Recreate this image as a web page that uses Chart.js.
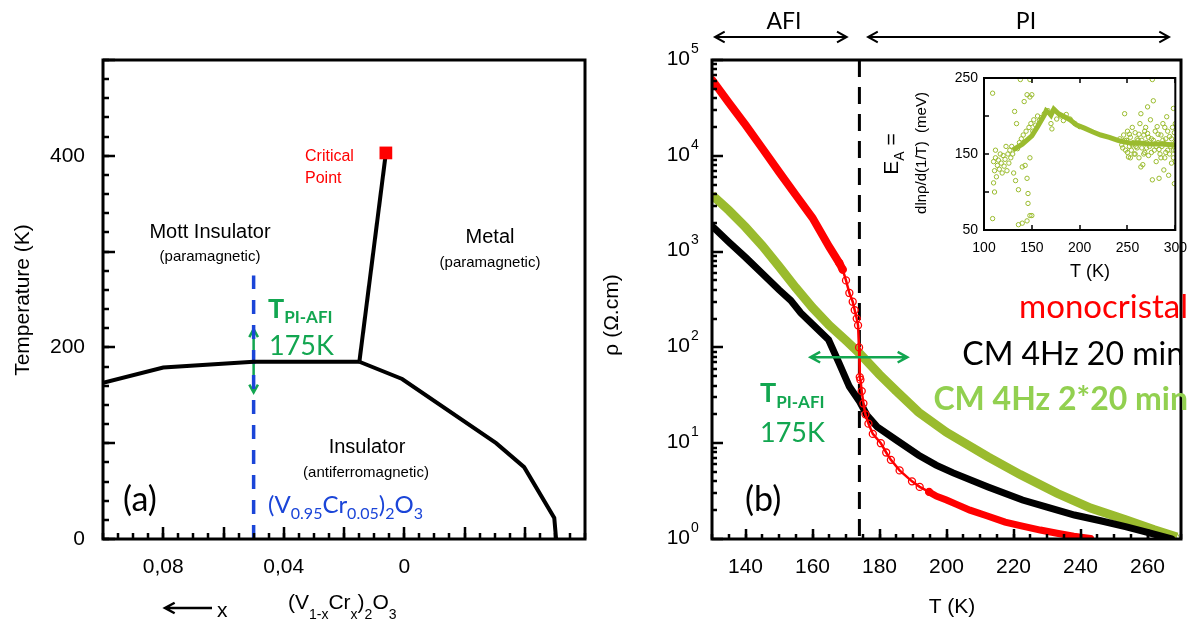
<!DOCTYPE html>
<html>
<head>
<meta charset="utf-8">
<script src="https://cdn.jsdelivr.net/npm/chart.js@4"></script>
<style>
  body { margin: 0; background: #fff; }
  .layer { position: absolute; left: 0; top: 0; width: 1197px; height: 625px; }
</style>
</head>
<body>
<div class="layer"><canvas id="phase" width="1197" height="625"></canvas></div>
<div class="layer"><canvas id="rho" width="1197" height="625"></canvas></div>
<div class="layer"><canvas id="inset" width="1197" height="625"></canvas></div>
<script>
'use strict';

// (a) phase diagram, x = Cr content, T in K
const afiBoundaryX = [0.1, 0.08, 0.05, 0.0149];
const afiBoundaryT = [163, 179, 185, 185];
const mitLineX = [0.0149, 0.0063];
const mitLineT = [185, 398];
const metalBoundaryX = [0.0149, 0.0007, -0.0305, -0.0398, -0.0498, -0.0504];
const metalBoundaryT = [185, 167, 100, 75, 22, 0];
const criticalX = [0.0061];
const criticalT = [403];
const sampleX = [0.05, 0.05];
const sampleT = [0, 275];
const transitionArrowT = [219, 153];
const phaseTickValues = [0.08, 0.04, 0];
const phaseTickText = ['0,08', '0,04', '0'];
const tempTickValues = [0, 200, 400];

// (b) resistivity vs T
const monoT = [130, 135, 140, 145, 150, 155, 160, 165, 168, 169, 170, 171, 172, 172.6, 173.2, 173.6, 173.9, 174.1, 174.3, 174.7,
  175.2, 175.8, 176.7, 178, 180.4, 182, 183.4, 186, 189.7, 192, 194.8, 197, 200, 203, 207, 212, 217.5, 222, 228, 233, 238, 243];
const monoRho = [62000, 36000, 21000, 12000, 6800, 3900, 2250, 1120, 760, 650, 500, 370, 300, 245, 200, 170, 100, 49, 46, 35,
  26, 20, 16, 12.5, 10, 8, 6.7, 5.2, 4.0, 3.5, 3.1, 2.8, 2.55, 2.3, 2.0, 1.75, 1.5, 1.38, 1.24, 1.15, 1.07, 1.01];
const cm20T = [130, 135, 140, 145, 150, 153.5, 156.5, 160, 164.8, 167.9, 171, 174.1, 176.2, 179.3, 185, 191.7, 196.9, 202,
  212.4, 222.7, 230, 238.2, 246, 253.7, 260, 267.2];
const cm20Rho = [1850, 1260, 870, 590, 400, 310, 229, 174, 120, 69, 39, 27, 19.7, 14.8, 10.8, 7.5, 5.9, 4.9,
  3.5, 2.55, 2.15, 1.78, 1.55, 1.34, 1.17, 1.0];
const cm40T = [130, 135, 140, 145, 150, 155, 160, 165, 170, 174, 180, 185, 191.7, 200, 212.4, 222, 233, 243, 253.7, 262, 268.8];
const cm40Rho = [3900, 2700, 1800, 1150, 700, 420, 260, 170, 118, 87, 52, 35, 21, 13, 7.2, 4.7, 3.0, 2.1, 1.58, 1.25, 1.05];
const transitionT = 174;
const rhoArrowT = [159.4, 188.3];
const rhoArrowValue = 79;
const afiRangeT = [130.9, 170.2];
const piRangeT = [176.6, 266.4];
const tTickLabels = [140, 160, 180, 200, 220, 240, 260];
const rhoDecades = [0, 1, 2, 3, 4, 5];

// inset: activation energy
const eaTrendT = [130, 140, 150, 156, 163, 165, 168, 170, 173, 178, 184, 190, 197, 205, 214, 222, 231, 240, 246, 255, 265, 275, 285, 300];
const eaTrendE = [155, 163, 174, 186, 201, 207, 204, 201, 209, 203, 199, 195, 188, 184, 179, 175, 172, 168, 166, 164, 164, 163, 163, 162];
const eaScatter = [
  [109, 230], [109, 65], [110, 140], [111, 128], [112, 145], [113, 120], [110, 112], [111, 100], [112, 155], [114, 135],
  [115, 142], [116, 130], [117, 150], [118, 138], [119, 125], [120, 148], [121, 134], [122, 143], [123, 160], [124, 128],
  [125, 150], [126, 138], [127, 155], [128, 145], [129, 160], [130, 150], [131, 125], [132, 206], [133, 115], [134, 190],
  [135, 157], [136, 103], [136, 57], [137, 165], [138, 248], [139, 170], [140, 59], [140, 133], [141, 175], [142, 219],
  [143, 135], [144, 180], [145, 228], [145, 62], [145, 118], [146, 98], [146, 85], [147, 185], [148, 225], [148, 69],
  [148, 145], [148, 248], [149, 190], [150, 228], [150, 69], [151, 180], [152, 195], [154, 188], [156, 200], [158, 194],
  [160, 198], [163, 203], [167, 207], [170, 190], [171, 183], [173, 208], [176, 196], [180, 200], [183, 194], [186, 202],
  [190, 196], [195, 190], [200, 186], [242, 170], [244, 162], [246, 175], [247, 203], [248, 155], [249, 168], [250, 180],
  [251, 146], [252, 160], [253, 172], [254, 155], [255, 185], [256, 165], [257, 150], [258, 178], [259, 160], [260, 170],
  [261, 168], [262, 145], [263, 190], [264, 133], [264, 203], [265, 158], [266, 136], [267, 175], [268, 152], [269, 185],
  [270, 165], [271, 177], [271, 212], [272, 148], [273, 160], [274, 195], [275, 170], [276, 116], [276, 248], [277, 220],
  [278, 155], [279, 180], [280, 140], [281, 186], [282, 165], [283, 118], [284, 150], [285, 175], [286, 160], [287, 190],
  [288, 129], [288, 164], [289, 145], [290, 170], [291, 199], [292, 155], [293, 122], [294, 173], [295, 160], [296, 138],
  [297, 185], [298, 210], [298, 155], [299, 111], [300, 165], [300, 190], [300, 140],
  [245, 158], [247, 168], [250, 152], [252, 176], [255, 162], [258, 150], [260, 158], [262, 176], [265, 168], [267, 150],
  [270, 158], [272, 172], [275, 152], [277, 168], [280, 160], [282, 176], [285, 145], [287, 168], [290, 152], [292, 180],
  [294, 150], [296, 170], [298, 145], [299, 178], [300, 155], [253, 145], [268, 180], [283, 156], [289, 185], [297, 162]
];

const ARIAL = 'Liberation Sans, Arial, sans-serif';
const CALIBRI = 'Lato, Open Sans, sans-serif';
const RED = '#ff0000';
const OLIVE = '#9abb2e';
const LIGHTGREEN = '#92d050';
const TGREEN = '#12a650';
const BLUE = '#1b45d8';

function pts(xs, ys) {
  return xs.map((x, i) => ({ x: x, y: ys[i] }));
}

function range(a, b, step) {
  const out = [];
  for (let v = a; v <= b + 1e-9; v += step) out.push(+v.toFixed(6));
  return out;
}

function tickMarks(chart, axisId, values, len, edge, width) {
  const ctx = chart.ctx, a = chart.chartArea, s = chart.scales[axisId];
  ctx.save();
  ctx.strokeStyle = '#000';
  ctx.lineWidth = width;
  ctx.beginPath();
  values.forEach(v => {
    const p = Math.round(s.getPixelForValue(v));
    if (edge === 'bottom') { ctx.moveTo(p, a.bottom); ctx.lineTo(p, a.bottom - len); }
    if (edge === 'top') { ctx.moveTo(p, a.top); ctx.lineTo(p, a.top + len); }
    if (edge === 'left') { ctx.moveTo(a.left, p); ctx.lineTo(a.left + len, p); }
  });
  ctx.stroke();
  ctx.restore();
}

function frame(chart, width) {
  const ctx = chart.ctx, a = chart.chartArea;
  ctx.save();
  ctx.strokeStyle = '#000';
  ctx.lineWidth = width;
  ctx.strokeRect(a.left, a.top, a.right - a.left, a.bottom - a.top);
  ctx.restore();
}

// parts: [text, font, dy]
function rich(ctx, x, y, parts, align) {
  let w = 0;
  parts.forEach(p => { ctx.font = p[1]; w += ctx.measureText(p[0]).width; });
  let cx = align === 'center' ? x - w / 2 : align === 'right' ? x - w : x;
  ctx.textAlign = 'left';
  ctx.textBaseline = 'alphabetic';
  parts.forEach(p => {
    ctx.font = p[1];
    ctx.fillText(p[0], cx, y + (p[2] || 0));
    cx += ctx.measureText(p[0]).width;
  });
}

function text(ctx, str, x, y, font, color, align) {
  ctx.font = font;
  ctx.fillStyle = color;
  ctx.textAlign = align || 'center';
  ctx.textBaseline = 'middle';
  ctx.fillText(str, x, y);
}

function vtext(ctx, str, x, y, font) {
  ctx.save();
  ctx.translate(x, y);
  ctx.rotate(-Math.PI / 2);
  text(ctx, str, 0, 0, font, '#000');
  ctx.restore();
}

function arrow(ctx, x1, y1, x2, y2, head, color, width, both) {
  const ang = Math.atan2(y2 - y1, x2 - x1);
  ctx.save();
  ctx.strokeStyle = color;
  ctx.lineWidth = width;
  ctx.beginPath();
  ctx.moveTo(x1, y1);
  ctx.lineTo(x2, y2);
  const tip = (x, y, a) => {
    ctx.moveTo(x - head * Math.cos(a - 0.5), y - head * Math.sin(a - 0.5));
    ctx.lineTo(x, y);
    ctx.lineTo(x - head * Math.cos(a + 0.5), y - head * Math.sin(a + 0.5));
  };
  tip(x2, y2, ang);
  if (both) tip(x1, y1, ang + Math.PI);
  ctx.stroke();
  ctx.restore();
}

function noGrid(extra) {
  return Object.assign({
    grid: { display: false, drawTicks: false },
    border: { display: false }
  }, extra);
}

const common = {
  responsive: false,
  animation: false,
  devicePixelRatio: 1,
  events: [],
  plugins: { legend: { display: false }, tooltip: { enabled: false } }
};

// ---------- (a) ----------
const phaseDecor = {
  id: 'phaseDecor',
  beforeDatasetsDraw(chart) {
    const ctx = chart.ctx, x = chart.scales.x, y = chart.scales.y;
    const px = x.getPixelForValue(sampleX[0]);
    arrow(ctx, px, y.getPixelForValue(transitionArrowT[0]), px, y.getPixelForValue(transitionArrowT[1]), 9, TGREEN, 2.5, true);
  },
  afterDraw(chart) {
    const ctx = chart.ctx;
    frame(chart, 3);
    tickMarks(chart, 'x', range(-0.06, 0.1, 0.005), 6, 'bottom', 2.5);
    tickMarks(chart, 'x', range(-0.04, 0.08, 0.02), 12, 'bottom', 2.5);
    tickMarks(chart, 'y', range(0, 500, 20), 6, 'left', 2.5);
    tickMarks(chart, 'y', range(0, 500, 100), 12, 'left', 2.5);

    text(ctx, 'Critical', 305, 157, '16px ' + ARIAL, RED, 'left');
    text(ctx, 'Point', 305, 179, '16px ' + ARIAL, RED, 'left');
    text(ctx, 'Mott Insulator', 210, 232, '20px ' + ARIAL, '#000');
    text(ctx, '(paramagnetic)', 210, 257, '15px ' + ARIAL, '#000');
    text(ctx, 'Metal', 490, 237, '20px ' + ARIAL, '#000');
    text(ctx, '(paramagnetic)', 490, 263, '15px ' + ARIAL, '#000');
    text(ctx, 'Insulator', 367, 447, '20px ' + ARIAL, '#000');
    text(ctx, '(antiferromagnetic)', 366, 473, '15px ' + ARIAL, '#000');
    text(ctx, '(a)', 123, 500, '34px ' + CALIBRI, '#000', 'left');

    ctx.fillStyle = TGREEN;
    rich(ctx, 268, 318, [['T', 'bold 27px ' + CALIBRI], ['PI-AFI', 'bold 17px ' + CALIBRI, 5]], 'left');
    rich(ctx, 269, 355, [['175K', '27px ' + CALIBRI]], 'left');

    ctx.fillStyle = BLUE;
    rich(ctx, 268, 513, [['(V', '24px ' + CALIBRI], ['0.95', '16px ' + CALIBRI, 6], ['Cr', '24px ' + CALIBRI],
      ['0.05', '16px ' + CALIBRI, 6], [')', '24px ' + CALIBRI], ['2', '16px ' + CALIBRI, 6],
      ['O', '24px ' + CALIBRI], ['3', '16px ' + CALIBRI, 6]], 'left');

    vtext(ctx, 'Temperature (K)', 23, 300, '21px ' + ARIAL);

    arrow(ctx, 212, 608, 165, 608, 11, '#000', 2.5, false);
    ctx.fillStyle = '#000';
    rich(ctx, 217, 617, [['x', '21px ' + ARIAL]], 'left');
    rich(ctx, 288, 609, [['(V', '21px ' + ARIAL], ['1-x', '14px ' + ARIAL, 10], ['Cr', '21px ' + ARIAL],
      ['x', '14px ' + ARIAL, 10], [')', '21px ' + ARIAL], ['2', '14px ' + ARIAL, 10],
      ['O', '21px ' + ARIAL], ['3', '14px ' + ARIAL, 10]], 'left');
  }
};

new Chart(document.getElementById('phase'), {
  type: 'scatter',
  data: {
    datasets: [
      { data: pts(criticalX, criticalT), pointStyle: 'rect', pointRadius: 9, backgroundColor: RED, borderColor: RED, borderWidth: 0 },
      { data: pts(afiBoundaryX, afiBoundaryT), showLine: true, borderColor: '#000', borderWidth: 4, pointRadius: 0 },
      { data: pts(mitLineX, mitLineT), showLine: true, borderColor: '#000', borderWidth: 4, pointRadius: 0 },
      { data: pts(metalBoundaryX, metalBoundaryT), showLine: true, borderColor: '#000', borderWidth: 4, pointRadius: 0 },
      { data: pts(sampleX, sampleT), showLine: true, borderColor: BLUE, borderWidth: 3.5, borderDash: [14, 11], pointRadius: 0 }
    ]
  },
  options: Object.assign({}, common, {
    layout: { padding: { left: 0, top: 60, right: 612, bottom: 0 } },
    scales: {
      x: noGrid({
        type: 'linear', reverse: true, min: -0.06, max: 0.1,
        ticks: {
          stepSize: 0.01, autoSkip: false, maxRotation: 0, padding: 16, color: '#000',
          font: { family: ARIAL, size: 21 },
          callback: v => {
            const i = phaseTickValues.findIndex(t => Math.abs(t - v) < 1e-6);
            return i < 0 ? '' : phaseTickText[i];
          }
        },
        afterFit: s => { s.height = 86; }
      }),
      y: noGrid({
        type: 'linear', min: 0, max: 500,
        ticks: {
          stepSize: 100, autoSkip: false, padding: 18, color: '#000',
          font: { family: ARIAL, size: 21 },
          callback: v => (tempTickValues.includes(v) ? String(v) : '')
        },
        afterFit: s => { s.width = 103; }
      })
    }
  }),
  plugins: [phaseDecor]
});

// ---------- (b) ----------
const monoPoints = pts(monoT, monoRho);

const rhoDecor = {
  id: 'rhoDecor',
  beforeDatasetsDraw(chart) {
    const ctx = chart.ctx, a = chart.chartArea, x = chart.scales.x;
    const px = x.getPixelForValue(transitionT);
    ctx.save();
    ctx.strokeStyle = '#000';
    ctx.lineWidth = 3;
    ctx.setLineDash([17, 10]);
    ctx.beginPath();
    ctx.moveTo(px, a.top);
    ctx.lineTo(px, a.bottom);
    ctx.stroke();
    ctx.restore();
  },
  afterDraw(chart) {
    const ctx = chart.ctx, x = chart.scales.x, y = chart.scales.y;
    frame(chart, 3);
    tickMarks(chart, 'x', range(130, 270, 5), 5, 'bottom', 2.5);
    tickMarks(chart, 'x', range(140, 260, 20), 10, 'bottom', 2.5);
    const minors = [];
    rhoDecades.slice(0, -1).forEach(d => { for (let k = 2; k <= 9; k++) minors.push(k * Math.pow(10, d)); });
    tickMarks(chart, 'y', minors, 5, 'left', 2.5);
    tickMarks(chart, 'y', rhoDecades.map(d => Math.pow(10, d)), 11, 'left', 2.5);

    // decade labels
    ctx.fillStyle = '#000';
    rhoDecades.forEach(d => {
      const py = y.getPixelForValue(Math.pow(10, d));
      ctx.font = '21px ' + ARIAL;
      ctx.textAlign = 'right';
      ctx.textBaseline = 'middle';
      ctx.fillText('10', 690, py - 1);
      ctx.font = '14px ' + ARIAL;
      ctx.textAlign = 'left';
      ctx.fillText(String(d), 691, py - 11);
    });

    // phase ranges above the frame
    arrow(ctx, x.getPixelForValue(afiRangeT[0]), 37, x.getPixelForValue(afiRangeT[1]), 37, 11, '#000', 2, true);
    arrow(ctx, x.getPixelForValue(piRangeT[0]), 37, x.getPixelForValue(piRangeT[1]), 37, 11, '#000', 2, true);
    text(ctx, 'AFI', 784, 22, '23px ' + CALIBRI, '#000');
    text(ctx, 'PI', 1026, 22, '23px ' + CALIBRI, '#000');

    const ay = y.getPixelForValue(rhoArrowValue);
    arrow(ctx, x.getPixelForValue(rhoArrowT[0]), ay, x.getPixelForValue(rhoArrowT[1]), ay, 11, TGREEN, 2.5, true);

    ctx.fillStyle = TGREEN;
    rich(ctx, 760, 402, [['T', 'bold 27px ' + CALIBRI], ['PI-AFI', 'bold 17px ' + CALIBRI, 6]], 'left');
    rich(ctx, 760, 442, [['175K', '27px ' + CALIBRI]], 'left');
    text(ctx, '(b)', 745, 500, '34px ' + CALIBRI, '#000', 'left');

    ctx.fillStyle = RED;
    rich(ctx, 1188, 318, [['monocristal', '33px ' + CALIBRI]], 'right');
    ctx.fillStyle = '#000';
    rich(ctx, 1184, 365, [['CM 4Hz 20 min', '32px ' + CALIBRI]], 'right');
    ctx.fillStyle = LIGHTGREEN;
    rich(ctx, 1188, 410, [['CM 4Hz 2*20 min', 'bold 32px ' + CALIBRI]], 'right');

    vtext(ctx, '\u03c1 (\u03a9.cm)', 612, 315, '21px ' + ARIAL);
    text(ctx, 'T (K)', 952, 607, '21px ' + ARIAL, '#000');
  }
};

new Chart(document.getElementById('rho'), {
  type: 'scatter',
  data: {
    datasets: [
      { data: monoPoints.filter(p => p.x <= 169), showLine: true, borderColor: RED, borderWidth: 8,
        borderCapStyle: 'round', pointRadius: 0 },
      { data: monoPoints.filter(p => p.x >= 168 && p.x <= 195), showLine: true, borderColor: RED, borderWidth: 2.5,
        pointRadius: 3.5, pointStyle: 'circle', pointBorderColor: RED, pointBorderWidth: 1.3, pointBackgroundColor: 'rgba(255,255,255,0)' },
      { data: monoPoints.filter(p => p.x >= 194.8), showLine: true, borderColor: RED, borderWidth: 7,
        borderCapStyle: 'round', pointRadius: 0 },
      { data: pts(cm20T, cm20Rho), showLine: true, borderColor: '#000', borderWidth: 7,
        borderCapStyle: 'round', pointRadius: 0 },
      { data: pts(cm40T, cm40Rho), showLine: true, borderColor: OLIVE, borderWidth: 9,
        pointRadius: 4, pointStyle: 'triangle', pointBorderColor: OLIVE, pointBorderWidth: 1,
        pointBackgroundColor: 'rgba(255,255,255,0)' }
    ]
  },
  options: Object.assign({}, common, {
    layout: { padding: { left: 0, top: 60, right: 5, bottom: 0 } },
    scales: {
      x: noGrid({
        type: 'linear', min: 130, max: 270,
        ticks: {
          stepSize: 10, autoSkip: false, maxRotation: 0, padding: 16, color: '#000',
          font: { family: ARIAL, size: 21 },
          callback: v => (tTickLabels.includes(Math.round(v)) ? String(Math.round(v)) : '')
        },
        afterFit: s => { s.height = 86; }
      }),
      y: noGrid({
        type: 'logarithmic', min: 1, max: 1e5,
        ticks: { display: false },
        afterFit: s => { s.width = 712; }
      })
    }
  }),
  plugins: [rhoDecor]
});

// ---------- inset ----------
const insetDecor = {
  id: 'insetDecor',
  afterDraw(chart) {
    const ctx = chart.ctx;
    frame(chart, 2);
    tickMarks(chart, 'x', range(100, 300, 50), 5, 'bottom', 1.5);
    tickMarks(chart, 'x', range(100, 300, 50), 5, 'top', 1.5);
    tickMarks(chart, 'y', range(50, 250, 50), 5, 'left', 1.5);
    text(ctx, 'T (K)', 1090, 272, '18px ' + ARIAL, '#000');

    ctx.save();
    ctx.translate(898, 154);
    ctx.rotate(-Math.PI / 2);
    ctx.fillStyle = '#000';
    rich(ctx, 0, 0, [['E', '21px ' + ARIAL], ['A', '14px ' + ARIAL, 6], [' =', '21px ' + ARIAL]], 'center');
    ctx.restore();

    ctx.save();
    ctx.translate(926, 153);
    ctx.rotate(-Math.PI / 2);
    ctx.fillStyle = '#000';
    rich(ctx, 0, 0, [['dln\u03c1/d(1/T)  (meV)', '15px ' + ARIAL]], 'center');
    ctx.restore();
  }
};

new Chart(document.getElementById('inset'), {
  type: 'scatter',
  data: {
    datasets: [
      { data: pts(eaTrendT, eaTrendE), showLine: true, borderColor: OLIVE, borderWidth: 5, pointRadius: 0 },
      { data: eaScatter.map(p => ({ x: p[0], y: p[1] })), pointRadius: 2.2, pointBorderWidth: 1,
        pointBorderColor: OLIVE, pointBackgroundColor: 'rgba(255,255,255,0)' }
    ]
  },
  options: Object.assign({}, common, {
    layout: { padding: { left: 0, top: 78, right: 15, bottom: 0 } },
    scales: {
      x: noGrid({
        type: 'linear', min: 100, max: 300,
        ticks: { stepSize: 50, autoSkip: false, maxRotation: 0, padding: 10, color: '#000', font: { family: ARIAL, size: 14 } },
        afterFit: s => { s.height = 395; }
      }),
      y: noGrid({
        type: 'linear', min: 50, max: 250,
        ticks: {
          stepSize: 50, autoSkip: false, padding: 6, color: '#000', font: { family: ARIAL, size: 14 },
          callback: v => ((v - 50) % 100 === 0 ? String(v) : '')
        },
        afterFit: s => { s.width = 984; }
      })
    }
  }),
  plugins: [insetDecor]
});
</script>
</body>
</html>
